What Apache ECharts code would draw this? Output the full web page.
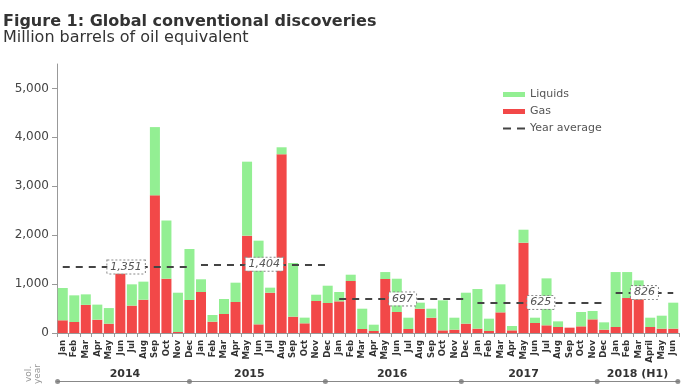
<!DOCTYPE html>
<html><head><meta charset="utf-8">
<script src="https://cdn.jsdelivr.net/npm/echarts@6/dist/echarts.min.js"></script>
<style>html,body{margin:0;padding:0;background:#fff}#c{width:696px;height:385px}</style>
</head><body><div id="c"></div>
<script>
const monthLabels = [
  'Jan','Feb','Mar','Apr','May','Jun','Jul','Aug','Sep','Oct','Nov','Dec',
  'Jan','Feb','Mar','Apr','May','Jun','Jul','Aug','Sep','Oct','Nov','Dec',
  'Jan','Feb','Mar','Apr','May','Jun','Jul','Aug','Sep','Oct','Nov','Dec',
  'Jan','Feb','Mar','Apr','May','Jun','Jul','Aug','Sep','Oct','Nov','Dec',
  'Jan','Feb','Mar','April','May','Jun'
];
const gas = [
  260, 225, 575, 272, 190, 1220, 560, 680, 2815, 1110, 20, 675,
  838, 231, 389, 634, 1990, 177, 824, 3654, 334, 198, 654, 613,
  647, 1063, 82, 41, 1104, 429, 82, 497, 313, 54, 68, 191,
  89, 41, 422, 54, 1846, 204, 157, 123, 109, 136, 279, 68,
  123, 715, 690, 123, 89, 89
];
const liquids = [
  660, 545, 215, 308, 320, 20, 435, 370, 1395, 1190, 804, 1043,
  260, 137, 306, 395, 1513, 1711, 103, 143, 1097, 116, 129, 354,
  191, 129, 415, 129, 142, 681, 231, 123, 184, 614, 245, 633,
  810, 252, 573, 89, 266, 109, 960, 115, 0, 293, 171, 150,
  1123, 531, 386, 190, 265, 531
];
const yearAverages = [1351, 1404, 697, 625, 826];
const yearStart = [0, 12, 24, 36, 48];
const yearEnd = [11, 23, 35, 47, 53];
const yearLabels = ['2014', '2015', '2016', '2017', '2018 (H1)'];
const yearLabelPos = [5.4, 16.2, 28.6, 40, 49.9];
const yearDotPos = [-0.45, 11, 22.8, 34.6, 46.4, 53.4];
const yTicks = [0, 1000, 2000, 3000, 4000, 5000];

const FONT = 'DejaVu Sans';
const GRID_LEFT = 57, GRID_RIGHT = 17;
const chart = echarts.init(document.getElementById('c'), null, {renderer: 'canvas'});
const fmt = v => Number(v).toLocaleString('en-US');
const dashIcon = 'path://M0,0h0.01v0.01h-0.01z M21.99,4.99h0.01v0.01h-0.01z M0,1.6h8v1.8h-8z M14,1.6h8v1.8h-8z';

chart.setOption({
  animation: false,
  backgroundColor: '#fff',
  textStyle: {fontFamily: FONT},
  title: [
    {text: 'Figure 1: Global conventional discoveries', left: 3, top: 14, padding: 0,
     textStyle: {fontFamily: FONT, fontSize: 16, fontWeight: 'bold', color: '#333'}},
    {text: 'Million barrels of oil equivalent', left: 3, top: 30, padding: 0,
     textStyle: {fontFamily: FONT, fontSize: 16, fontWeight: 'normal', color: '#333'}}
  ],
  legend: {
    orient: 'vertical', left: 503, top: 88, padding: 0, itemWidth: 22, itemHeight: 5, itemGap: 4,
    textStyle: {fontFamily: FONT, fontSize: 11, color: '#555', lineHeight: 13},
    data: [{name: 'Liquids', icon: 'rect'}, {name: 'Gas', icon: 'rect'},
           {name: 'Year average', icon: dashIcon, itemStyle: {color: '#444'}}]
  },
  graphic: [{
    type: 'text', x: 33, y: 374, rotation: Math.PI / 2,
    style: {text: 'vol.\nyear', font: '9px "DejaVu Sans"', fill: '#999', align: 'center', verticalAlign: 'middle', lineHeight: 9}
  }],
  grid: [
    {left: GRID_LEFT, right: GRID_RIGHT, top: 64, bottom: 52},
    {left: GRID_LEFT, right: GRID_RIGHT, top: 378, height: 8}
  ],
  xAxis: [
    {type: 'category', gridIndex: 0, data: monthLabels,
     axisLine: {lineStyle: {color: '#999'}},
     axisTick: {show: true, interval: 0, length: 4, lineStyle: {color: '#999'}},
     axisLabel: {interval: 0, rotate: 90, margin: 7, fontFamily: FONT, fontSize: 8.5, fontWeight: 'bold', color: '#333'}},
    {type: 'value', gridIndex: 1, min: -0.5, max: 53.5,
     axisLine: {show: true, onZero: true, lineStyle: {color: '#888', width: 1}},
     axisTick: {show: false}, splitLine: {show: false},
     axisLabel: {show: true, inside: true, margin: 5, customValues: yearLabelPos,
       formatter: v => yearLabels[yearLabelPos.indexOf(v)] || '',
       fontFamily: FONT, fontSize: 11, fontWeight: 'bold', color: '#333'}}
  ],
  yAxis: [
    {type: 'value', gridIndex: 0, min: 0, max: 5500, interval: 1000,
     axisLine: {show: true, lineStyle: {color: '#999'}},
     axisTick: {show: true, length: 5, customValues: yTicks, lineStyle: {color: '#999'}},
     splitLine: {show: false},
     axisLabel: {customValues: yTicks, margin: 8, formatter: fmt, fontFamily: FONT, fontSize: 12, color: '#444'}},
    {type: 'value', gridIndex: 1, min: -1, max: 1, show: false}
  ],
  series: [
    {name: 'Gas', type: 'bar', stack: 'total', xAxisIndex: 0, yAxisIndex: 0, data: gas,
     barCategoryGap: '13%', itemStyle: {color: '#f24848'}},
    {name: 'Liquids', type: 'bar', stack: 'total', xAxisIndex: 0, yAxisIndex: 0, data: liquids,
     barCategoryGap: '13%', itemStyle: {color: '#93ef93'}},
    {name: 'Year average', type: 'line', xAxisIndex: 0, yAxisIndex: 0, data: [],
     symbol: 'none', lineStyle: {type: [7, 6], width: 2, color: '#444'}, itemStyle: {color: '#444'},
     markLine: {
       silent: true, symbol: ['none', 'none'],
       lineStyle: {type: [7, 6], width: 2, color: '#444'},
       label: {show: true, position: 'middle', distance: 0, verticalAlign: 'middle',
         formatter: p => fmt(yearAverages[p.dataIndex]),
         fontFamily: FONT, fontStyle: 'italic', fontSize: 11, color: '#555',
         backgroundColor: '#fff', borderColor: '#888', borderType: 'dotted', borderWidth: 1, padding: [1, 3]},
       data: yearAverages.map((v, i) => [{coord: [yearStart[i], v]}, {coord: [yearEnd[i], v]}])
     }},
    {name: 'dots', type: 'scatter', xAxisIndex: 1, yAxisIndex: 1, symbol: 'circle', symbolSize: 5,
     itemStyle: {color: '#777'}, silent: true,
     data: yearDotPos.map(x => [x, 0])}
  ]
});
</script></body></html>
